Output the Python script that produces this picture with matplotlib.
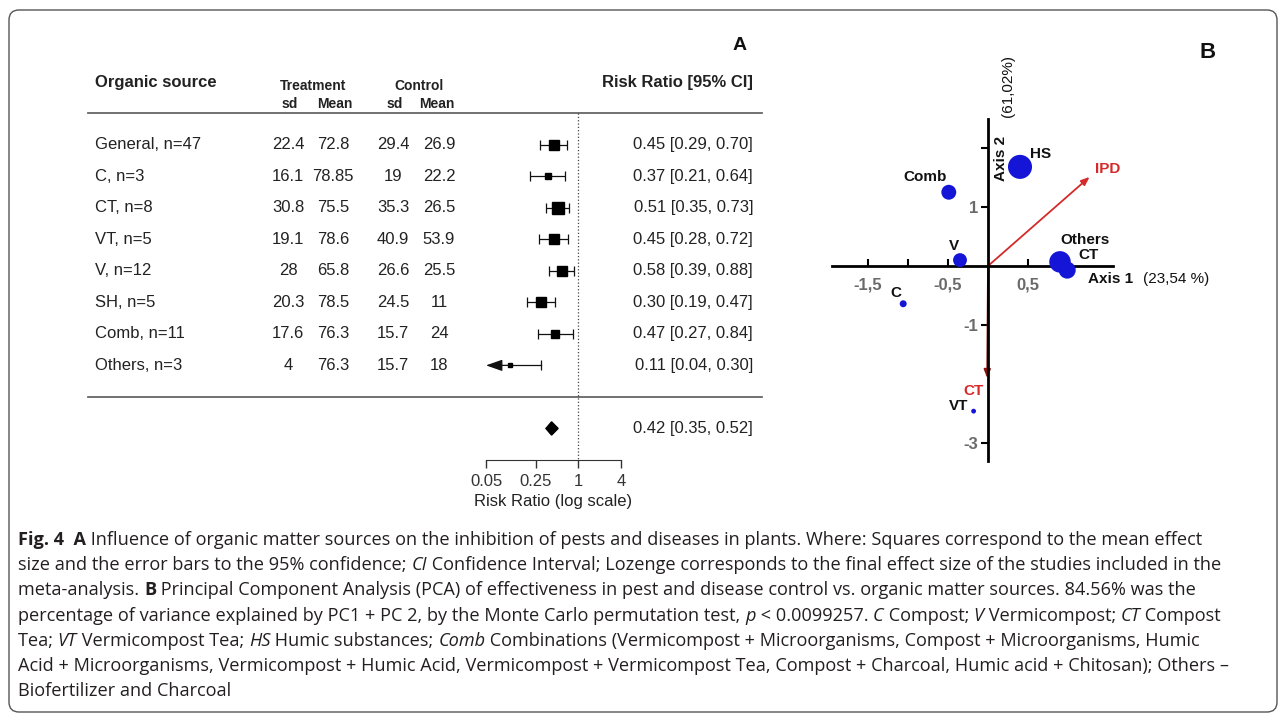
import matplotlib
matplotlib.use('Agg')
import matplotlib.pyplot as plt
from matplotlib.patches import FancyBboxPatch, Polygon
from matplotlib.ticker import NullLocator
from matplotlib.transforms import blended_transform_factory

W, H = 1284, 713
plt.rcParams['font.family'] = ['Liberation Sans', 'DejaVu Sans']

# Panel A data (forest plot)
sources = ['General, n=47', 'C, n=3', 'CT, n=8', 'VT, n=5', 'V, n=12',
           'SH, n=5', 'Comb, n=11', 'Others, n=3']
trt_sd = ['22.4', '16.1', '30.8', '19.1', '28', '20.3', '17.6', '4']
trt_mean = ['72.8', '78.85', '75.5', '78.6', '65.8', '78.5', '76.3', '76.3']
ctl_sd = ['29.4', '19', '35.3', '40.9', '26.6', '24.5', '15.7', '15.7']
ctl_mean = ['26.9', '22.2', '26.5', '53.9', '25.5', '11', '24', '18']
rr = [0.45, 0.37, 0.51, 0.45, 0.58, 0.30, 0.47, 0.11]
ci_lo = [0.29, 0.21, 0.35, 0.28, 0.39, 0.19, 0.27, 0.04]
ci_hi = [0.70, 0.64, 0.73, 0.72, 0.88, 0.47, 0.84, 0.30]
box_size = [7.5, 5.0, 8.0, 6.5, 7.5, 7.5, 5.5, 2.5]
overall = [0.42, 0.35, 0.52]
rr_ticks = [0.05, 0.25, 1, 4]
rr_ticklabels = ['0.05', '0.25', '1', '4']

# Panel B data (PCA)
pca_names = ['HS', 'Comb', 'V', 'Others', 'CT', 'C', 'VT']
pc1 = [0.40, -0.49, -0.35, 0.90, 0.99, -1.06, -0.18]
pc2 = [1.68, 1.25, 0.10, 0.07, -0.07, -0.64, -2.46]
pca_size = [300, 115, 100, 240, 150, 25, 12]
vec_names = ['IPD', 'CT']
vec_x = [1.27, -0.01]
vec_y = [1.51, -1.90]

fig = plt.figure(figsize=(W / 100, H / 100), dpi=100)

# rounded frame
frame = FancyBboxPatch((0.09, 0.01), 12.68, 7.02, boxstyle='round,pad=0,rounding_size=0.1',
                       transform=fig.dpi_scale_trans, fc='none', ec='#555555', lw=1.0)
fig.patches.append(frame)

# ---------------- panel A ----------------
ax = fig.add_axes([486 / W, (H - 460) / H, (621 - 486) / W, (460 - 50) / H])
ax.set_xscale('log')
ax.set_xlim(rr_ticks[0], rr_ticks[-1])
ax.set_ylim(10, -3)
for s in ['top', 'left', 'right']:
    ax.spines[s].set_visible(False)
ax.spines['bottom'].set_color('#333333')
ax.set_yticks([])
ax.set_xticks(rr_ticks, labels=rr_ticklabels)
ax.xaxis.set_minor_locator(NullLocator())
ax.tick_params(axis='x', direction='out', length=6, width=1, colors='#333333',
               labelsize=12, pad=4)
ax.set_xlabel('Risk Ratio (log scale)', fontsize=12, color='#222222', labelpad=4)

tr = blended_transform_factory(fig.transFigure, ax.transData)
txt = '#222222'
fig.text(95 / W, 1 - 83 / H, 'Organic source', fontsize=12, fontweight='bold', color=txt, va='center')
fig.text(313 / W, 1 - 86 / H, 'Treatment', fontsize=10, fontweight='bold', color=txt, va='center', ha='center')
fig.text(419 / W, 1 - 86 / H, 'Control', fontsize=10, fontweight='bold', color=txt, va='center', ha='center')
for x, lab in [(290, 'sd'), (335, 'Mean'), (395, 'sd'), (437, 'Mean')]:
    fig.text(x / W, 1 - 104 / H, lab, fontsize=10, fontweight='bold', color=txt, va='center', ha='center')
fig.text(753 / W, 1 - 83 / H, 'Risk Ratio [95% CI]', fontsize=12, fontweight='bold', color=txt,
         va='center', ha='right')
fig.text(740 / W, 1 - 45 / H, 'A', fontsize=14, fontweight='bold', color='#111111', va='center', ha='center')

for yy in [-1, len(sources)]:
    ax.plot([88 / W, 762 / W], [yy, yy], transform=tr, color='#666666', lw=1.3, clip_on=False)
ax.plot([1, 1], [-1, 10], color='#444444', lw=0.9, ls=':', clip_on=False)

xmin = ax.get_xlim()[0]
for i in range(len(sources)):
    ax.text(95 / W, i, sources[i], transform=tr, fontsize=12, color=txt, va='center')
    ax.text(288 / W, i, trt_sd[i], transform=tr, fontsize=12, color=txt, va='center', ha='center')
    ax.text(333 / W, i, trt_mean[i], transform=tr, fontsize=12, color=txt, va='center', ha='center')
    ax.text(393 / W, i, ctl_sd[i], transform=tr, fontsize=12, color=txt, va='center', ha='center')
    ax.text(439 / W, i, ctl_mean[i], transform=tr, fontsize=12, color=txt, va='center', ha='center')
    ax.text(753 / W, i, f'{rr[i]:.2f} [{ci_lo[i]:.2f}, {ci_hi[i]:.2f}]', transform=tr,
            fontsize=12, color=txt, va='center', ha='right')
    if ci_lo[i] >= xmin:
        ax.errorbar(rr[i], i, xerr=[[rr[i] - ci_lo[i]], [ci_hi[i] - rr[i]]], fmt='none',
                    ecolor='#111111', elinewidth=0.9, capsize=3.5, capthick=0.9)
    else:
        ax.plot([rr[i], ci_hi[i]], [i, i], color='#111111', lw=0.9)
        ax.plot([ci_hi[i]], [i], marker='|', ms=7, mew=0.9, color='#111111')
        ax.annotate('', xy=(xmin, i), xytext=(rr[i], i),
                    arrowprops=dict(arrowstyle='-|>,head_length=1.0,head_width=0.35',
                                    color='#111111', lw=0.9, shrinkA=0, shrinkB=0))
    ax.plot(rr[i], i, marker='s', ms=box_size[i], color='#000000', ls='none')

yo = len(sources) + 1
est, lo, hi = overall
ax.add_patch(Polygon([[lo, yo], [est, yo - 0.21], [hi, yo], [est, yo + 0.21]],
                     closed=True, fc='#000000', ec='#000000'))
ax.text(753 / W, yo, f'{est:.2f} [{lo:.2f}, {hi:.2f}]', transform=tr, fontsize=12,
        color=txt, va='center', ha='right')

# ---------------- panel B ----------------
bx = fig.add_axes([828 / W, (H - 466.6) / H, 288 / W, (466.6 - 112.6) / H])
bx.set_xlim(-2.0, 1.6)
bx.set_ylim(-3.4, 2.6)
bx.patch.set_alpha(0)
for s in ['top', 'right']:
    bx.spines[s].set_visible(False)
bx.spines['left'].set_position(('data', 0))
bx.spines['bottom'].set_position(('data', 0))
bx.spines['left'].set_bounds(-3.3, 2.5)
bx.spines['bottom'].set_bounds(-1.95, 1.56)
bx.spines['left'].set_linewidth(2)
bx.spines['bottom'].set_linewidth(2)
bx.set_xticks([-1.5, -1, -0.5, 0.5, 1.0], labels=['-1,5', '', '-0,5', '0,5', ''])
bx.set_yticks([2, 1, -1, -3], labels=['', '1', '-1', '-3'])
bx.tick_params(axis='x', direction='in', length=5, width=1.5, labelsize=12,
               labelcolor='#6a6a6a', pad=8)
bx.tick_params(axis='y', direction='out', length=5, width=1.5, labelsize=12,
               labelcolor='#6a6a6a', pad=2)
for lab in bx.get_xticklabels() + bx.get_yticklabels():
    lab.set_fontweight('bold')

bx.scatter(pc1, pc2, s=pca_size, color='#1515d8', edgecolors='none', zorder=3)
offsets = {'HS': (7, 9, 'left'), 'Comb': (-17, 11, 'center'), 'V': (-4, 10, 'center'),
           'Others': (18, 16, 'center'), 'CT': (15, 11, 'center'), 'C': (-5, 8, 'center'),
           'VT': (-4, 4, 'right')}
for n, x, y in zip(pca_names, pc1, pc2):
    dx, dy, ha = offsets[n]
    bx.annotate(n, (x, y), xytext=(dx, dy), textcoords='offset points', ha=ha, va='center',
                fontsize=11, fontweight='bold', color='#111111', zorder=4)

vec_colors = ['#d42a2a', '#8c1010']
vec_lab = {'IPD': (13, 6), 'CT': (-10, -9)}
for n, x, y, c in zip(vec_names, vec_x, vec_y, vec_colors):
    bx.annotate('', xy=(x, y), xytext=(0, 0),
                arrowprops=dict(arrowstyle='-|>,head_length=0.5,head_width=0.2', color=c, lw=1.3,
                                shrinkA=0, shrinkB=0), zorder=2)
    dx, dy = vec_lab[n]
    bx.annotate(n, (x, y), xytext=(dx, dy), textcoords='offset points', ha='center', va='center',
                fontsize=11, fontweight='bold', color='#d42a2a', zorder=4)

fig.text(1088 / W, 1 - 279 / H, 'Axis 1', fontsize=11, fontweight='bold', color='#111111', va='center')
fig.text(1143 / W, 1 - 279 / H, '(23,54 %)', fontsize=11, color='#111111', va='center')
fig.text(1001 / W, 1 - 158 / H, 'Axis 2', fontsize=11, fontweight='bold', color='#111111',
         va='center', ha='center', rotation=90)
fig.text(1008 / W, 1 - 86 / H, '(61,02%)', fontsize=11, color='#111111',
         va='center', ha='center', rotation=90)
fig.text(1208 / W, 1 - 52 / H, 'B', fontsize=16, fontweight='bold', color='#111111',
         va='center', ha='center')

# ---------------- caption ----------------
cap_font = ['Open Sans', 'DejaVu Sans']
caption = [
    [('Fig. 4  A', 'b'), (' Influence of organic matter sources on the inhibition of pests and diseases in plants. Where: Squares correspond to the mean effect', 'n')],
    [('size and the error bars to the 95% confidence; ', 'n'), ('CI', 'i'), (' Confidence Interval; Lozenge corresponds to the final effect size of the studies included in the', 'n')],
    [('meta-analysis. ', 'n'), ('B', 'b'), (' Principal Component Analysis (PCA) of effectiveness in pest and disease control vs. organic matter sources. 84.56% was the', 'n')],
    [('percentage of variance explained by PC1 + PC 2, by the Monte Carlo permutation test, ', 'n'), ('p', 'i'),
     (' < 0.0099257. ', 'n'), ('C', 'i'), (' Compost; ', 'n'), ('V', 'i'), (' Vermicompost; ', 'n'), ('CT', 'i'), (' Compost', 'n')],
    [('Tea; ', 'n'), ('VT', 'i'), (' Vermicompost Tea; ', 'n'), ('HS', 'i'), (' Humic substances; ', 'n'), ('Comb', 'i'),
     (' Combinations (Vermicompost + Microorganisms, Compost + Microorganisms, Humic', 'n')],
    [('Acid + Microorganisms, Vermicompost + Humic Acid, Vermicompost + Vermicompost Tea, Compost + Charcoal, Humic acid + Chitosan); Others –', 'n')],
    [('Biofertilizer and Charcoal', 'n')],
]
renderer = fig.canvas.get_renderer()
for k, line in enumerate(caption):
    x = 18
    ybase = 545 + 25.2 * k
    for s, st in line:
        t = fig.text(x / W, 1 - ybase / H, s, fontsize=13.1, family=cap_font, color='#231f20',
                     va='baseline', fontweight='bold' if st == 'b' else 'normal',
                     fontstyle='italic' if st == 'i' else 'normal')
        x += t.get_window_extent(renderer).width

fig.savefig('out.png', dpi=100)
